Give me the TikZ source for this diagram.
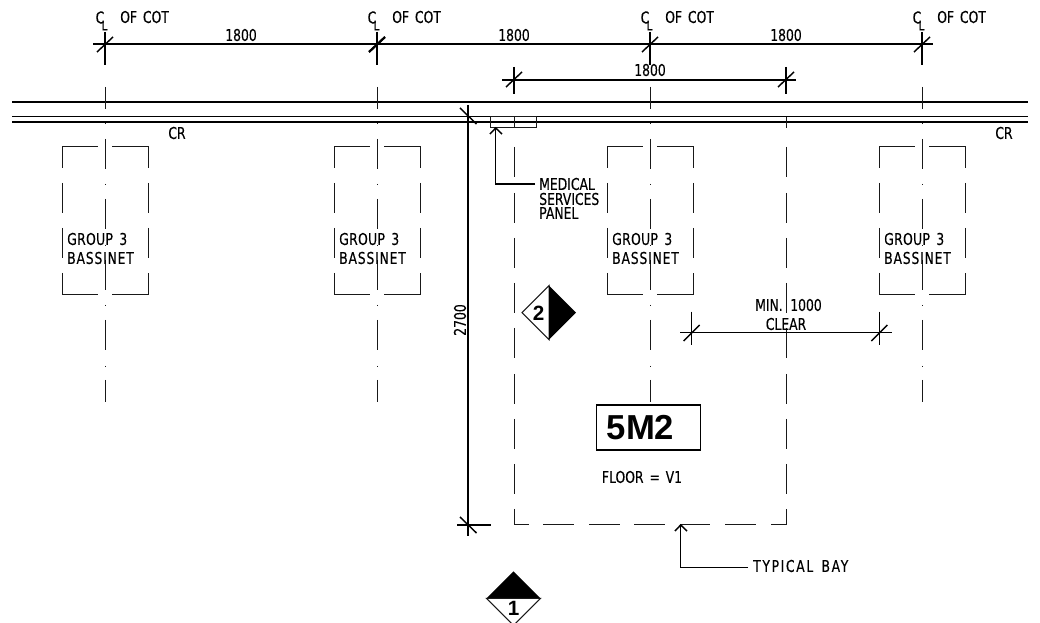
\documentclass[tikz,border=0pt]{standalone}
\usepackage{fontspec}
\setmainfont[FakeStretch=0.76,WordSpace={1.5},FakeBold=0.25]{DejaVu Sans}
\newfontfamily\boldsans{Liberation Sans}[BoldFont={Liberation Sans Bold}]
\tikzset{
  thin line/.style={line width=0.75pt,draw=black!90},
  dim line/.style={line width=1.1pt,draw=black},
  heavy line/.style={line width=1.7pt,draw=black},
  cad/.style={inner sep=0pt,font=\fontsize{12.2}{13}\selectfont,text=black},
  cadleft/.style={cad,anchor=west},
  tag/.style={inner sep=0pt,font=\boldsans\bfseries\fontsize{15.5}{15.5}\selectfont}
}
\begin{document}
\begin{tikzpicture}[x=0.75pt,y=-0.75pt]
\useasboundingbox (0,0) rectangle (1040,623);
\clip (0,0) rectangle (1040,623);
% walls
\draw[dim line] (12,102) -- (1028,102);
\draw[dim line] (12,116.5) -- (1028,116.5);
\draw[dim line] (12,122) -- (1028,122);
% centre lines and bassinets
\foreach \c/\n in {105/a,377/b,650/c,922/d}{
  \foreach \a/\b in {87/109,123/123.7,139/169,184/184.7,199/229,245/245.7,260/290,305/305.7,320/350,366/366.7,380/402}
    \draw[thin line] (\c,\a) -- (\c,\b);
  \draw[thin line] (\c-43,168) -- (\c-43,146.7) -- (\c-7,146.7);
  \draw[thin line] (\c+7,146.7) -- (\c+43,146.7) -- (\c+43,168);
  \draw[thin line] (\c-43,273) -- (\c-43,295) -- (\c-7,295);
  \draw[thin line] (\c+7,295) -- (\c+43,295) -- (\c+43,273);
  \foreach \a/\b in {183/213,228/258}{
    \draw[thin line] (\c-43,\a) -- (\c-43,\b);
    \draw[thin line] (\c+43,\a) -- (\c+43,\b);
  }
  \node[cadleft] (group\n) at (\c-38,239) {\addfontfeature{LetterSpace=2}GROUP 3};
  \node[cadleft] (bass\n) at (\c-38,258) {\addfontfeature{LetterSpace=5}BASSINET};
  \node[cadleft] (of\n) at (\c+15,17) {OF COT};
  \node[cad] (cl\n) at (\c-5,17.5) {C};
  \node[cad,font=\fontsize{10}{10}\selectfont] (ll\n) at (\c-0.5,25.5) {L};
  \draw[dim line] (\c,32) -- (\c,65);
  \draw[dim line] (\c-8,52) -- (\c+8,37);
}
\draw[heavy line] (377,32) -- (377,65);
\draw[heavy line] (369,52) -- (385,37);
% bay
\foreach \c in {514,786}{
  \foreach \a/\b in {117/128,147/177,193/223,238/268,283/313,328/358,374/404,419/449,464/494}
    \draw[thin line] (\c,\a) -- (\c,\b);
  \draw[dim line] (\c,67) -- (\c,94);
  \draw[dim line] (\c-8,87) -- (\c+8,72);
}
\draw[thin line] (514,509) -- (514,525) -- (529,525);
\draw[thin line] (771,525) -- (786,525) -- (786,509);
\foreach \a/\b in {543/574,589/620,634/665,680/710,725/756}
  \draw[thin line] (\a,525) -- (\b,525);
% dimensions
\draw[dim line] (93,44) -- (933,44);
\draw[dim line] (502,80) -- (796,80);
\node[cad] (d1) at (241,35) {1800};
\node[cad] (d2) at (514,35) {1800};
\node[cad] (d3) at (786,35) {1800};
\node[cad] (d4) at (650,70) {1800};
% vertical dimension
\draw[dim line] (468,105) -- (468,536.5);
\draw[dim line] (457,116.5) -- (491,116.5);
\draw[dim line] (460,108) -- (476.5,124);
\draw[dim line] (457,525) -- (491,525);
\draw[dim line] (460,517) -- (476.5,533);
\node[cad,rotate=90] (d5) at (460,320) {2700};
% panel
\draw[thin line] (490.7,116.5) rectangle (536.3,128);
\draw[dim line] (535,184) -- (495.7,184) -- (495.7,128);
\draw[dim line] (490,134) -- (495.7,128) -- (502,134);
\node[cadleft] (m1) at (539,184) {MEDICAL};
\node[cadleft] (m2) at (539,199) {SERVICES};
\node[cadleft] (m3) at (539,213) {PANEL};
% CR
\node[cad] (cr1) at (177,133) {CR};
\node[cad] (cr2) at (1004,133) {CR};
% clear
\draw[dim line] (680,332.7) -- (891.7,332.7);
\foreach \c in {691.7,879.3}{
  \draw[dim line] (\c,311.7) -- (\c,345);
  \draw[dim line] (\c-8,341) -- (\c+8,325);
}
\node[cadleft] (min) at (755,305) {MIN.};
\node[cadleft] (thou) at (790,305) {1000};
\node[cad] (clear) at (786,324) {CLEAR};
% diamonds
\draw[thin line,fill=white] (522,312.7) -- (549,285.7) -- (549,339.7) -- cycle;
\fill[black] (549,285.7) -- (576,312.7) -- (549,339.7) -- cycle;
\node[tag] (two) at (538.7,313) {2};
\fill[black] (486.5,598.3) -- (513.5,571.3) -- (540.5,598.3) -- cycle;
\draw[thin line] (486.5,598.3) -- (513.5,625.3) -- (540.5,598.3) -- cycle;
\node[tag] (one) at (513.5,608.5) {1};
% area tag
\node[draw=black,line width=1.1pt,minimum width=78pt,minimum height=33.7pt,inner sep=0pt] (box) at (648.7,427.5) {};
\node[inner sep=0pt,anchor=west,font=\boldsans\bfseries\fontsize{26}{26}\selectfont] (area) at (606.5,427.5) {5M2};
\node[cad] (floor) at (642,477) {FLOOR = V1};
% typical bay
\draw[dim line] (748,567.7) -- (680.7,567.7) -- (680.7,525);
\draw[dim line] (675,531) -- (680.7,525) -- (687,531);
\node[cadleft] (typ) at (753,566) {\addfontfeature{LetterSpace=10}TYPICAL BAY};
\end{tikzpicture}
\end{document}
